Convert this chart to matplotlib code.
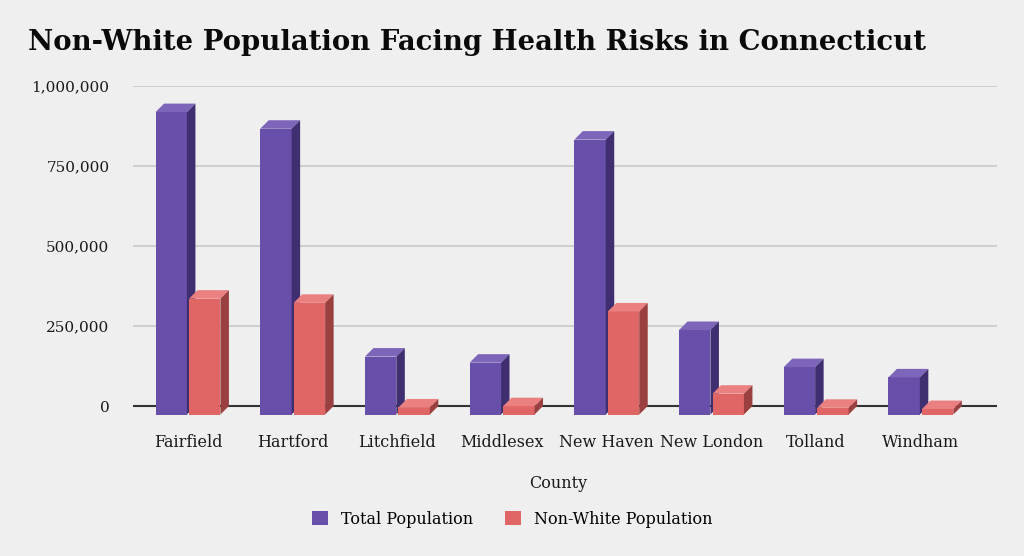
import matplotlib
matplotlib.use('Agg')
import numpy as np
from matplotlib import pyplot as plt
from matplotlib.patches import Polygon, Rectangle

counties = ['Fairfield', 'Hartford', 'Litchfield', 'Middlesex',
            'New Haven', 'New London', 'Tolland', 'Windham']
total_pop = [945000, 893000, 181000, 162000, 859000, 264000, 148000, 116000]
nonwhite_pop = [362000, 349000, 22000, 26000, 322000, 65000, 21000, 17000]
yticks = [0, 250000, 500000, 750000, 1000000]

bg = '#efefef'
purple = ('#684fa9', '#7d66b9', '#3f2f70')   # front, top, side
red = ('#e06666', '#eb8080', '#9b4040')

plt.rcParams['font.family'] = ['DejaVu Serif']

W, H = 1024, 556
fig = plt.figure(figsize=(W / 100, H / 100), dpi=100, facecolor=bg)
# axes box in pixels: left 133, right 997, top 86 (=1M), bottom 420
ax = fig.add_axes([133 / W, 1 - 420 / H, (997 - 133) / W, (420 - 86) / H])
ax.set_facecolor(bg)
ymin = -14 / 320 * 1e6
xl0, xl1 = -0.525, 7.727
ax.set_xlim(xl0, xl1)
ax.set_ylim(ymin, 1e6)

px_x = (997 - 133) / (xl1 - xl0)   # pixels per x unit
dx = 8.5 / px_x
dy = 8.5 / 320 * 1e6
w = 0.30

for yv in yticks:
    ax.axhline(yv, color='#333333' if yv == 0 else '#c6c6c6',
               lw=1.5 if yv == 0 else 1.1, zorder=0)


def bar3d(xl, v, cols):
    # xl is the left edge of the back face; the front face sits dx left, dy down
    front, top, side = cols
    ax.add_patch(Rectangle((xl - dx, -dy), w, v, facecolor=front, lw=0, zorder=2))
    ax.add_patch(Polygon([(xl - dx, v - dy), (xl + w - dx, v - dy),
                          (xl + w, v), (xl, v)], closed=True,
                         facecolor=top, lw=0, zorder=2))
    ax.add_patch(Polygon([(xl + w - dx, -dy), (xl + w, 0),
                          (xl + w, v), (xl + w - dx, v - dy)], closed=True,
                         facecolor=side, lw=0, zorder=2))


x = np.arange(len(counties))
for i in x:
    bar3d(i - 0.31 + dx, total_pop[i], purple)
    bar3d(i + 0.01 + dx, nonwhite_pop[i], red)

ax.set_yticks(yticks)
ax.set_yticklabels([f'{v:,}' for v in yticks], fontsize=11, color='#1a1a1a')
ax.set_xticks(x)
ax.set_xticklabels(counties, fontsize=11.5, color='#1a1a1a')
ax.tick_params(axis='both', length=0)
ax.tick_params(axis='y', pad=17)
ax.tick_params(axis='x', pad=10)
for s in ax.spines.values():
    s.set_visible(False)

fig.text(28 / W, 1 - 43 / H, 'Non-White Population Facing Health Risks in Connecticut',
         fontsize=19.8, fontweight='bold', va='center', ha='left', color='#0a0a0a')
fig.text(558 / W, 1 - 483 / H, 'County', fontsize=11.5, ha='center', va='center',
         color='#1a1a1a')

handles = [Rectangle((0, 0), 1, 1, facecolor=purple[0]),
           Rectangle((0, 0), 1, 1, facecolor=red[0])]
fig.legend(handles, ['Total Population', 'Non-White Population'],
           loc='center', bbox_to_anchor=(512 / W, 1 - 519 / H), ncol=2,
           frameon=False, fontsize=11.5, handlelength=1.0, handleheight=1.0,
           columnspacing=2.0, handletextpad=0.8)

fig.savefig('out.png', dpi=100, facecolor=bg)
